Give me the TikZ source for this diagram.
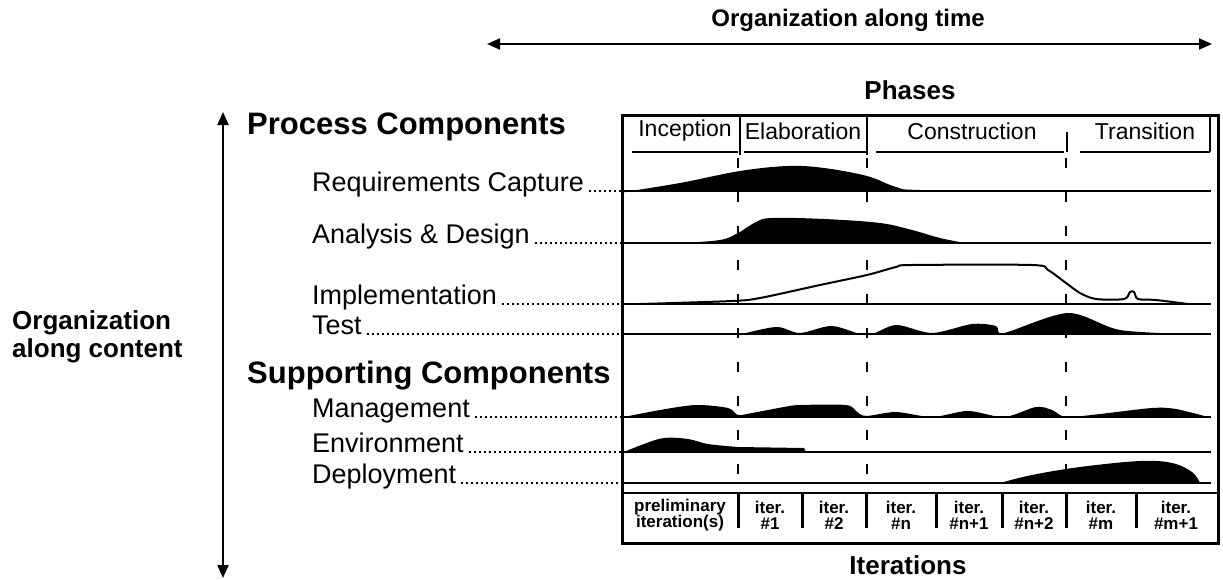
\documentclass[tikz,border=0pt]{standalone}
\usepackage{fontspec}
\setmainfont{Liberation Sans}
\usetikzlibrary{arrows.meta}
\begin{document}
\begin{tikzpicture}[x=1pt,y=-1pt,
  lbl/.style={font=\fontsize{27}{30}\selectfont, inner sep=0pt, anchor=base west},
  head/.style={font=\bfseries\fontsize{31}{34}\selectfont, inner sep=0pt, anchor=base west},
  ttl/.style={font=\bfseries\fontsize{26}{30}\selectfont, inner sep=0pt},
  phaselbl/.style={font=\fontsize{23}{26}\selectfont, inner sep=0pt},
  iterlbl/.style={font=\bfseries\fontsize{17}{16}\selectfont, align=center, inner sep=0pt},
  leader/.style={line width=1.5pt, dash pattern=on 2pt off 3pt},
  baseln/.style={line width=2.5pt},
  phasesep/.style={line width=2.5pt, dash pattern=on 10pt off 24pt},
  dbl/.style={line width=2pt, {Triangle[length=13pt,width=11pt]}-{Triangle[length=13pt,width=11pt]}},
  hump/.style={fill=black},
]
\useasboundingbox (0,0) rectangle (1223,579);

% top time axis
\coordinate (tl) at (487,44);
\coordinate (tr) at (1212,44);
\draw[dbl] (tl) -- (tr);
\node[ttl, font=\bfseries\fontsize{24}{28}\selectfont] (ttitle) at (848,20) {Organization along time};
\node[ttl] (phases) at (910,90) {Phases};
\node[ttl] (iters) at (908,565) {Iterations};

% left content axis
\coordinate (lt) at (223,112);
\coordinate (lb) at (223,578);
\draw[dbl] (lt) -- (lb);
\node[font=\bfseries\fontsize{26}{28}\selectfont, align=left, anchor=west, inner sep=0pt] (olc) at (12,337) {Organization\\along content};

% main box
\node[draw, line width=2.5pt, minimum width=596pt, minimum height=428pt, anchor=north west, inner sep=0pt] (box) at (621,114) {};

% phase header
\draw[line width=2pt] (740,114) -- (740,155);
\draw[line width=2pt] (867,114) -- (867,155);
\draw[line width=2pt] (1067,132) -- (1067,152);
\draw[line width=2pt] (1210,114) -- (1210,152);
\draw[line width=2pt] (632,152) -- (738,152);
\draw[line width=2pt] (744,152) -- (866,152);
\draw[line width=2pt] (876,152) -- (1064,152);
\draw[line width=2pt] (1080,152) -- (1210,152);
\node[phaselbl] (inc) at (685,131) {Inception};
\node[phaselbl] (ela) at (803,131) {Elaboration};
\node[phaselbl] (con) at (972,131) {Construction};
\node[phaselbl] (tra) at (1145,131) {Transition};

% phase boundaries
\draw[phasesep] (738,158) -- (738,493);
\draw[phasesep] (867,158) -- (867,493);
\draw[phasesep] (1066,158) -- (1066,493);

% headings
\node[head] (pc) at (247,134) {Process Components};
\node[head] (sc) at (247,383) {Supporting Components};

% row labels
\node[lbl] (req) at (312,191) {Requirements Capture};
\node[lbl] (ana) at (312,243) {Analysis \& Design};
\node[lbl] (imp) at (312,304) {Implementation};
\node[lbl] (tst) at (312,334) {Test};
\node[lbl] (mgt) at (312,417) {Management};
\node[lbl] (env) at (312,452) {Environment};
\node[lbl] (dep) at (312,483) {Deployment};

\foreach \n in {req,ana,imp,tst,mgt,env,dep}{
  \draw[leader] ([xshift=5pt]\n.base east) -- (\n.base east -| box.west);
  \draw[baseln] (\n.base east -| box.west) -- ([xshift=-9pt]\n.base east -| box.east);
}

% workflow curves
\fill[hump] plot[smooth,tension=0.6] coordinates {(624,192) (680,183) (740,171) (788,166) (824,168) (867,176) (896,187) (920,190) (1040,191)} -- cycle;
\fill[hump] plot[smooth,tension=0.6] coordinates {(680,243) (720,240) (738,233) (756,222) (772,218) (824,219) (880,223) (912,230) (940,238) (965,243)} -- cycle;
\draw[line width=2pt] plot[smooth,tension=0.5] coordinates {(640,304) (732,301) (760,298) (820,285) (867,275) (896,267) (912,265) (1032,265) (1048,270) (1066,283) (1080,293) (1096,299) (1124,299) (1130,292) (1134,292) (1138,299) (1156,300) (1188,304)};
\fill[hump] plot[smooth,tension=0.5] coordinates {(738,335) (776,327) (800,333) (832,326) (867,335) (896,325) (932,333) (972,324) (996,326) (1004,333) (1068,313) (1120,330) (1192,334)} -- cycle;
\fill[hump] plot[smooth,tension=0.5] coordinates {(624,417) (660,410) (696,405) (728,408) (738,415) (752,413) (784,407) (800,405) (846,405) (856,411) (866,416) (896,412) (932,417) (968,411) (1004,417) (1036,407) (1052,410) (1066,417) (1100,414) (1152,408) (1176,409) (1208,417)} -- cycle;
\fill[hump] plot[smooth,tension=0.6] coordinates {(624,452) (644,444) (664,438) (688,439) (708,444) (738,447)} -- (804,448) -- (806,452) -- cycle;
\fill[hump] plot[smooth,tension=0.6] coordinates {(1000,483) (1032,475) (1080,467) (1140,461) (1172,463) (1192,472) (1200,483)} -- cycle;

% iteration row
\draw[line width=2.5pt] (621,493) -- (1217,493);
\foreach \x in {738,802,866,936,1002,1066,1136}{
  \draw[line width=3pt] (\x,493) -- (\x,528);
}
\node[iterlbl] (i0) at (680,515) {preliminary\\iteration(s)};
\node[iterlbl] (i1) at (770,515) {iter.\\\#1};
\node[iterlbl] (i2) at (834,515) {iter.\\\#2};
\node[iterlbl] (i3) at (901,515) {iter.\\\#n};
\node[iterlbl] (i4) at (969,515) {iter.\\\#n+1};
\node[iterlbl] (i5) at (1034,515) {iter.\\\#n+2};
\node[iterlbl] (i6) at (1101,515) {iter.\\\#m};
\node[iterlbl] (i7) at (1176,515) {iter.\\\#m+1};
\end{tikzpicture}
\end{document}
